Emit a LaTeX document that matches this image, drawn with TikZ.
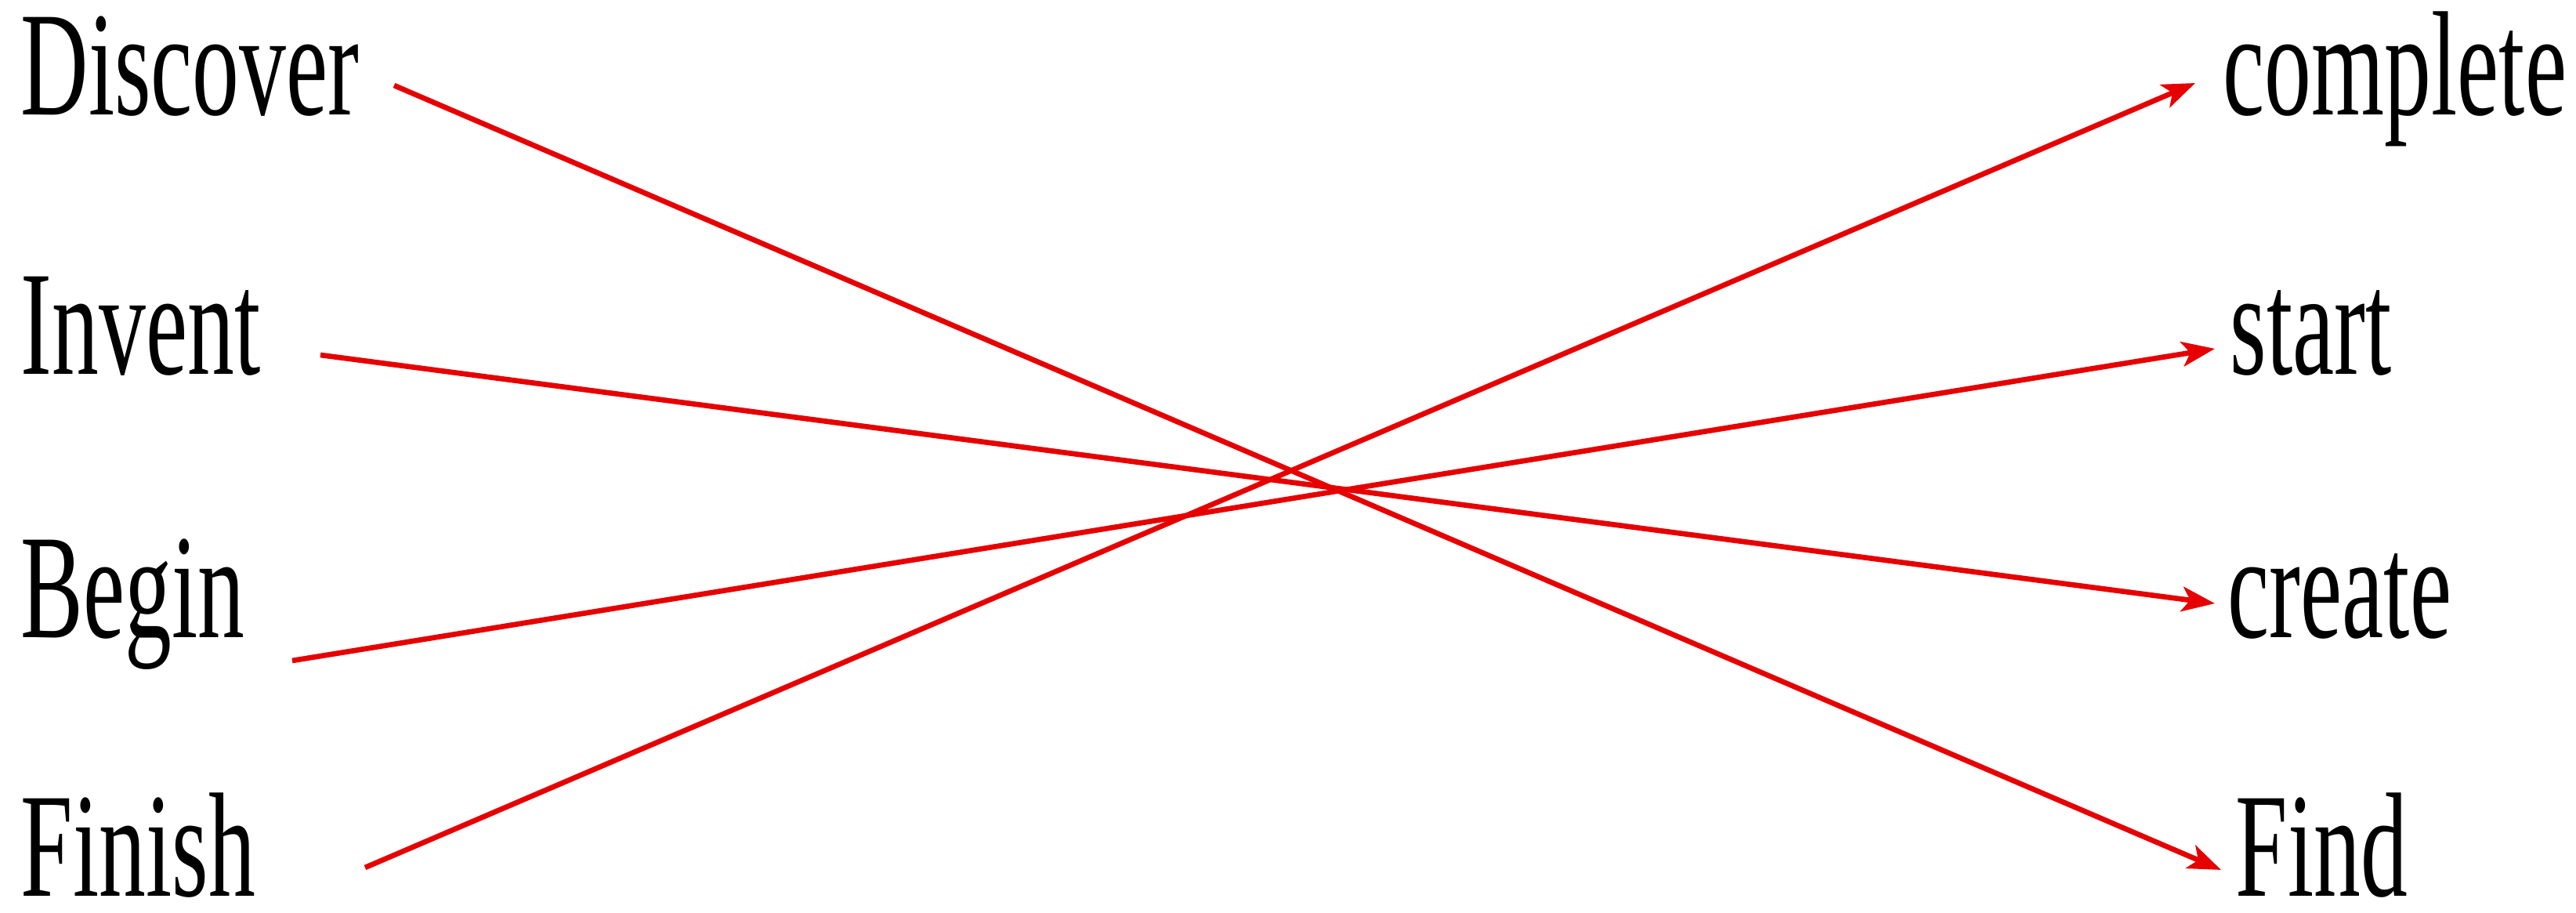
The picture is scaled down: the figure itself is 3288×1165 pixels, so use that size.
\documentclass[tikz,border=0pt]{standalone}
\usepackage{fontspec}
\setmainfont{Liberation Serif}
\newfontfamily\condserif[FakeStretch=0.63]{Liberation Serif}
\usetikzlibrary{arrows.meta,calc}
\definecolor{linkred}{RGB}{230,0,0}
\begin{document}
\begin{tikzpicture}[x=0.01cm,y=-0.01cm,
  word/.style={anchor=base west,inner sep=0pt,font=\condserif\fontsize{54}{60}\selectfont},
  link/.style={draw=linkred,line width=1.9pt,-{Stealth[length=12pt,width=9pt,inset=3pt]}}]
\useasboundingbox[fill=white] (0,0) rectangle (3288,1165);
% left column
\node[word] (discover) at (26,147) {Discover};
\node[word] (invent)   at (26,478) {Invent};
\node[word] (begin)    at (26,814) {Begin};
\node[word] (finish)   at (26,1144) {Finish};
% right column
\node[word] (complete) at (2837,147) {complete};
\node[word] (start)    at (2846,478) {start};
\node[word] (create)   at (2843,814) {create};
\node[word] (find)     at (2853,1144) {Find};
% connectors
\draw[link] ($(discover.base west)+(477,-38)$) -- ($(find.base west)+(-18,-34)$);
\draw[link] ($(invent.base west)+(383,-25)$) -- ($(create.base west)+(-16,-44)$);
\draw[link] ($(begin.base west)+(347,29)$) -- ($(start.base west)+(-19,-33)$);
\draw[link] ($(finish.base west)+(440,-37)$) -- ($(complete.base west)+(-35,-41)$);
\end{tikzpicture}
\end{document}
